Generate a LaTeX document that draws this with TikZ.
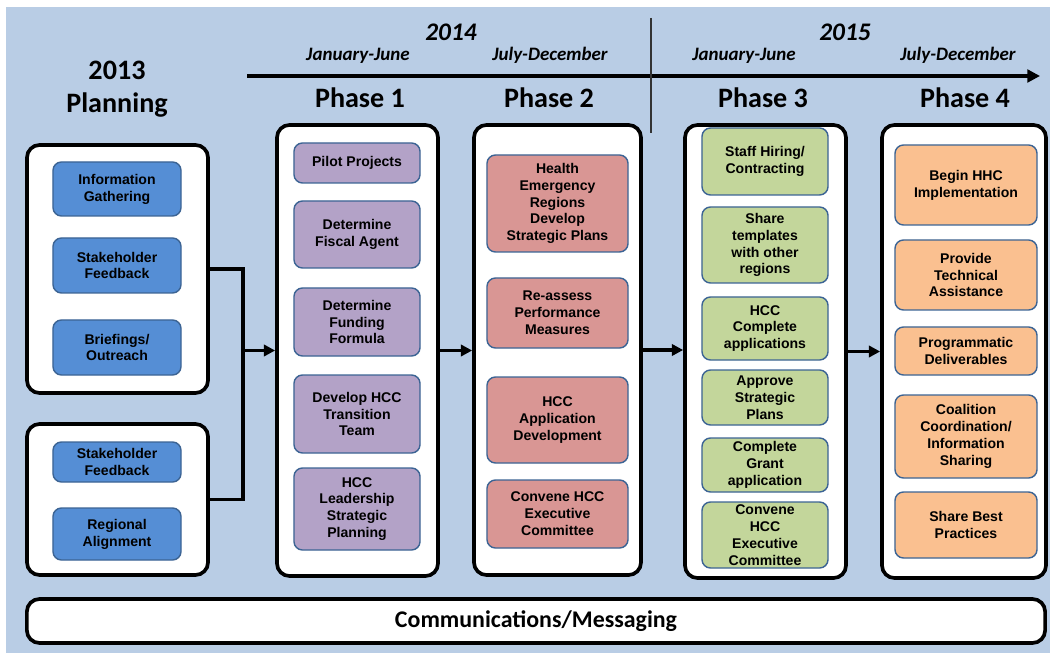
\documentclass[tikz,border=0pt]{standalone}
\usepackage{fontspec}
\setmainfont{Liberation Sans}
\newfontfamily\headfont{Carlito}
\usetikzlibrary{arrows.meta, positioning}
\definecolor{bgblue}{RGB}{185,205,229}
\definecolor{edgeblue}{RGB}{60,100,148}
\definecolor{planblue}{RGB}{85,142,213}
\definecolor{phpurple}{RGB}{179,162,199}
\definecolor{phred}{RGB}{217,150,148}
\definecolor{phgreen}{RGB}{195,214,155}
\definecolor{phorange}{RGB}{250,192,144}

\begin{document}
\begin{tikzpicture}[
        x=0.025cm, y=-0.025cm,
        frame/.style={draw, line width=2.6pt, fill=white, rounded corners=9pt},
        task/.style={draw=edgeblue, line width=1pt, rounded corners=6pt, align=center, inner sep=1pt, font=\fontsize{10}{12}\selectfont\bfseries},
        head/.style={anchor=base, align=center, font=\headfont\fontsize{20}{24}\selectfont\bfseries},
        year/.style={anchor=base, font=\headfont\fontsize{18}{20}\selectfont\bfseries\itshape},
        period/.style={anchor=base, font=\headfont\fontsize{13.5}{15}\selectfont\bfseries\itshape},
        arrow/.style={-{Triangle[length=8pt, width=8pt]}, line width=2.4pt}
    ]
        \useasboundingbox (0,0) rectangle (1050,655);
        \fill[bgblue] (6,7) rectangle (1050,653);

        % Timeline
        \node[year] (y14) at (451, 41) {2014};
        \node[year] (y15) at (845, 41) {2015};
        \node[period] (t1) at (358, 61) {January-June};
        \node[period] (t2) at (550, 61) {July-December};
        \node[period] (t3) at (744, 61) {January-June};
        \node[period] (t4) at (958, 61) {July-December};
        \coordinate (tstart) at (247, 76);
        \coordinate (tend) at (1040, 76);
        \draw[-{Triangle[length=9pt, width=9pt]}, line width=2.2pt] (tstart) -- (tend);
        \coordinate (dtop) at (651, 18);
        \coordinate (dbot) at (651, 133);
        \draw[line width=1pt, black!80] (dtop) -- (dbot);

        % Headings
        \node[head] (plan) at (117, 113) {2013\\Planning};
        \node[head] (h1) at (360, 108) {Phase 1};
        \node[head] (h2) at (549, 108) {Phase 2};
        \node[head] (h3) at (763, 108) {Phase 3};
        \node[head] (h4) at (965, 108) {Phase 4};

        % Frames
        \node[frame, minimum width=4.525cm, minimum height=6.2cm] (plan1) at (117.5, 269) {};
        \node[frame, minimum width=4.525cm, minimum height=3.775cm] (plan2) at (117.5, 499.5) {};
        \node[frame, minimum width=4.025cm, minimum height=11.275cm] (ph1) at (357.5, 350.5) {};
        \node[frame, minimum width=4.175cm, minimum height=11.25cm] (ph2) at (557.5, 350) {};
        \node[frame, minimum width=4.025cm, minimum height=11.325cm] (ph3) at (765.5, 351.5) {};
        \node[frame, minimum width=4.1cm, minimum height=11.325cm] (ph4) at (964, 351.5) {};
        \node[frame, minimum width=25.45cm, minimum height=1.1cm, font=\headfont\fontsize{17}{20}\selectfont\bfseries] (comm) at (536, 621) {Communications/Messaging};

        % Planning
        \foreach \t/\b/\txt [count=\i] in {162/216/{Information\\Gathering}, 238/293/{Stakeholder\\Feedback},
                320/375/{Briefings/\\Outreach}, 442/482/{Stakeholder\\Feedback}, 508/560/{Regional\\Alignment}} {
            \node[task, fill=planblue, minimum width=3.2cm, minimum height={(\b-\t)*0.025cm}] (a\i) at (117, {(\t+\b)/2}) {\txt};
        }

        % Phase 1
        \foreach \t/\b/\txt [count=\i] in {143/183/{Pilot Projects}, 201/268/{Determine\\Fiscal Agent},
                288/356/{Determine\\Funding\\Formula}, 375/453/{Develop HCC\\Transition\\Team},
                468/550/{HCC\\Leadership\\Strategic\\Planning}} {
            \node[task, fill=phpurple, minimum width=3.15cm, minimum height={(\b-\t)*0.025cm}] (b\i) at (357, {(\t+\b)/2}) {\txt};
        }

        % Phase 2
        \foreach \t/\b/\txt [count=\i] in {155/252/{Health\\Emergency\\Regions\\Develop\\Strategic Plans},
                278/348/{Re-assess\\Performance\\Measures}, 377/463/{HCC\\Application\\Development},
                480/548/{Convene HCC\\Executive\\Committee}} {
            \node[task, fill=phred, minimum width=3.525cm, minimum height={(\b-\t)*0.025cm}] (c\i) at (557.5, {(\t+\b)/2}) {\txt};
        }

        % Phase 3
        \foreach \t/\b/\txt [count=\i] in {128/195/{Staff Hiring/\\Contracting}, 207/283/{Share\\templates\\with other\\regions},
                297/360/{HCC\\Complete\\applications}, 370/425/{Approve\\Strategic\\Plans},
                438/492/{Complete\\Grant\\application}, 502/568/{Convene\\HCC\\Executive\\Committee}} {
            \node[task, fill=phgreen, minimum width=3.15cm, minimum height={(\b-\t)*0.025cm}] (d\i) at (765, {(\t+\b)/2}) {\txt};
        }

        % Phase 4
        \foreach \t/\b/\txt [count=\i] in {145/225/{Begin HHC\\Implementation}, 240/310/{Provide\\Technical\\Assistance},
                327/375/{Programmatic\\Deliverables}, 395/478/{Coalition\\Coordination/\\Information\\Sharing},
                492/558/{Share Best\\Practices}} {
            \node[task, fill=phorange, minimum width=3.55cm, minimum height={(\b-\t)*0.025cm}] (e\i) at (966, {(\t+\b)/2}) {\txt};
        }

        % Connectors
        \coordinate (jn) at (243, 350.5);
        \draw[line width=2.4pt] (plan1.east) -| (jn);
        \draw[line width=2.4pt] (plan2.east) -| (jn);
        \draw[arrow] (jn) -- (ph1.west);
        \draw[arrow] (ph1.east) -- (ph2.west |- ph1.east);
        \draw[arrow] (ph2.east) -- (ph3.west |- ph2.east);
        \draw[arrow] (ph3.east) -- (ph4.west);
    \end{tikzpicture}
\end{document}
